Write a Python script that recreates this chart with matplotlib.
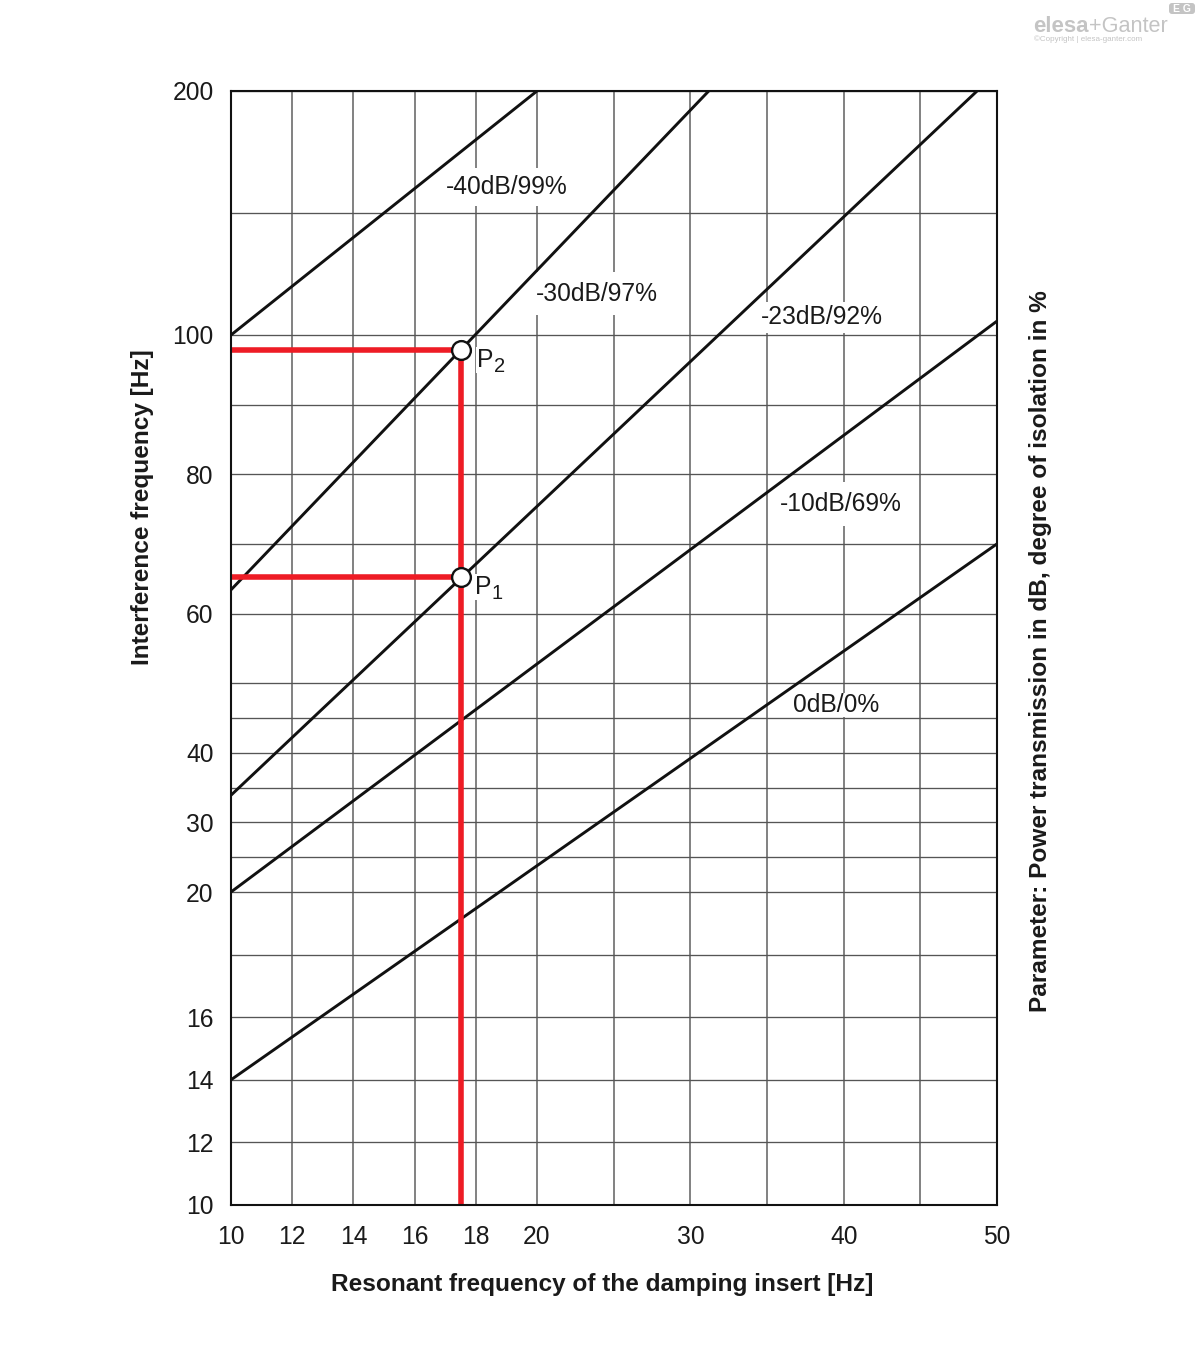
import numpy as np
import matplotlib
matplotlib.use('Agg')
import matplotlib.pyplot as plt
from matplotlib.patches import FancyBboxPatch

W, H = 1200, 1363
FS = 17.7
FS_BOLD = 17.55

plt.rcParams['font.family'] = ['Liberation Sans', 'DejaVu Sans']

# grid values, the chart's axes are stretched piecewise
x_grid = [10, 12, 14, 16, 18, 20, 25, 30, 35, 40, 45, 50]
x_labelled = [10, 12, 14, 16, 18, 20, 30, 40, 50]
y_grid = [10, 12, 14, 16, 18, 20, 25, 30, 35, 40, 45, 50, 60, 70, 80, 90, 100, 150, 200]
y_labelled = [10, 12, 14, 16, 20, 30, 40, 60, 80, 100, 200]

x_breaks = [10, 20, 50]
x_break_pos = [0, 306, 766]
y_breaks = [10, 20, 100, 200]
y_break_pos = [0, 313, 870, 1114]

# isolation lines
line_names = ['-40dB/99%', '-30dB/97%', '-23dB/92%', '-10dB/69%', '0dB/0%']
line_x = [[10, 20], [10, 31.2], [10, 48.7], [10, 50], [10, 50]]
line_y = [[100, 200], [63.4, 200], [33.9, 200], [20, 105.7], [14, 70]]
label_x = [19.0, 23.9, 38.6, 39.8, 39.5]
label_y = [160.6, 117.0, 107.2, 75.7, 46.9]
label_pad = [5, 7, 2.5, 7, 0]

# worked example
p_x = [17.5, 17.5]
p_y = [65.3, 97.9]


def px_x(x):
	return x / W

def px_y(y):
	return 1 - y / H

fig = plt.figure(figsize=(W / 100, H / 100), dpi=100)
ax = fig.add_axes([px_x(231), px_y(1205), (997 - 231) / W, (1205 - 91) / H])

ax.set_xscale('function', functions=(lambda v: np.interp(v, x_breaks, x_break_pos),
									 lambda v: np.interp(v, x_break_pos, x_breaks)))
ax.set_yscale('function', functions=(lambda v: np.interp(v, y_breaks, y_break_pos),
									 lambda v: np.interp(v, y_break_pos, y_breaks)))
ax.set_xlim(10, 50)
ax.set_ylim(10, 200)

ax.set_xticks(x_grid)
ax.set_xticklabels([str(v) if v in x_labelled else '' for v in x_grid])
ax.set_yticks(y_grid)
ax.set_yticklabels([str(v) if v in y_labelled else '' for v in y_grid])
ax.xaxis.set_minor_locator(matplotlib.ticker.NullLocator())
ax.yaxis.set_minor_locator(matplotlib.ticker.NullLocator())
ax.tick_params(axis='x', length=0, pad=14.5, labelsize=FS, colors='#1a1a1a')
ax.tick_params(axis='y', length=0, pad=12.5, labelsize=FS, colors='#1a1a1a')
ax.grid(True, axis='x', color='#666666', lw=1.15, zorder=1)
ax.grid(True, axis='y', color='#555555', lw=0.95, zorder=1)
ax.set_axisbelow(True)

for s in ax.spines.values():
	s.set_linewidth(1.5)
	s.set_color('#111111')
	s.set_zorder(6)

for xs, ys in zip(line_x, line_y):
	ax.plot(xs, ys, color='#111111', lw=2.1, zorder=4, solid_capstyle='butt')

for name, x, y, pad in zip(line_names, label_x, label_y, label_pad):
	ax.text(x, y, name, fontsize=FS, color='#1a1a1a', ha='center', va='center', zorder=3,
			bbox=dict(facecolor='white', edgecolor='none', pad=pad))

# red construction lines
red = '#ee1c25'
ax.plot([p_x[1], p_x[1]], [10, p_y[1]], color=red, lw=4.0, zorder=5, solid_capstyle='butt')
for x, y in zip(p_x, p_y):
	ax.plot([10, x], [y, y], color=red, lw=4.0, zorder=5, solid_capstyle='butt')
ax.plot(p_x, p_y, ls='', marker='o', ms=13.5, mfc='white', mec='#111111', mew=1.7, zorder=7)

# P labels, the subscript is nearly full size in the original
for sub, tx, ty in [('1', 475, 587), ('2', 477, 360)]:
	fig.text(px_x(tx), px_y(ty), 'P', fontsize=FS, color='#1a1a1a', va='center', zorder=8,
			 bbox=dict(facecolor='white', edgecolor='none', pad=1))
	fig.text(px_x(tx + 17), px_y(ty + 6), sub, fontsize=14.5, color='#1a1a1a', va='center', zorder=8)

# axis titles
fig.text(px_x(602.5), px_y(1284), 'Resonant frequency of the damping insert [Hz]', fontsize=FS_BOLD,
		 fontweight='bold', color='#1a1a1a', ha='center', va='center')
fig.text(px_x(142), px_y(507), 'Interference frequency [Hz]', fontsize=FS_BOLD, fontweight='bold',
		 color='#1a1a1a', rotation=90, ha='center', va='center')
fig.text(px_x(1040), px_y(651), 'Parameter: Power transmission in dB, degree of isolation in %', fontsize=FS_BOLD,
		 fontweight='bold', color='#1a1a1a', rotation=90, ha='center', va='center')

# logo
logo = '#c4c4c4'
fig.text(px_x(1033), px_y(27), 'elesa', fontsize=16, fontweight='bold', color=logo, ha='left', va='center')
fig.text(px_x(1089), px_y(27), '+Ganter', fontsize=15.6, color=logo, ha='left', va='center')
fig.text(px_x(1034), px_y(39), '©Copyright | elesa-ganter.com', fontsize=5.8, color=logo, ha='left', va='center')
fig.patches.append(FancyBboxPatch((1170, H - 13), 24, 9, boxstyle='round,pad=1,rounding_size=3',
								  transform=None, facecolor=logo, edgecolor='none', figure=fig))
fig.text(px_x(1182), px_y(8.5), 'E G', fontsize=7.5, fontweight='bold', color='white', ha='center', va='center')

fig.savefig('out.png', dpi=100, facecolor='white')
